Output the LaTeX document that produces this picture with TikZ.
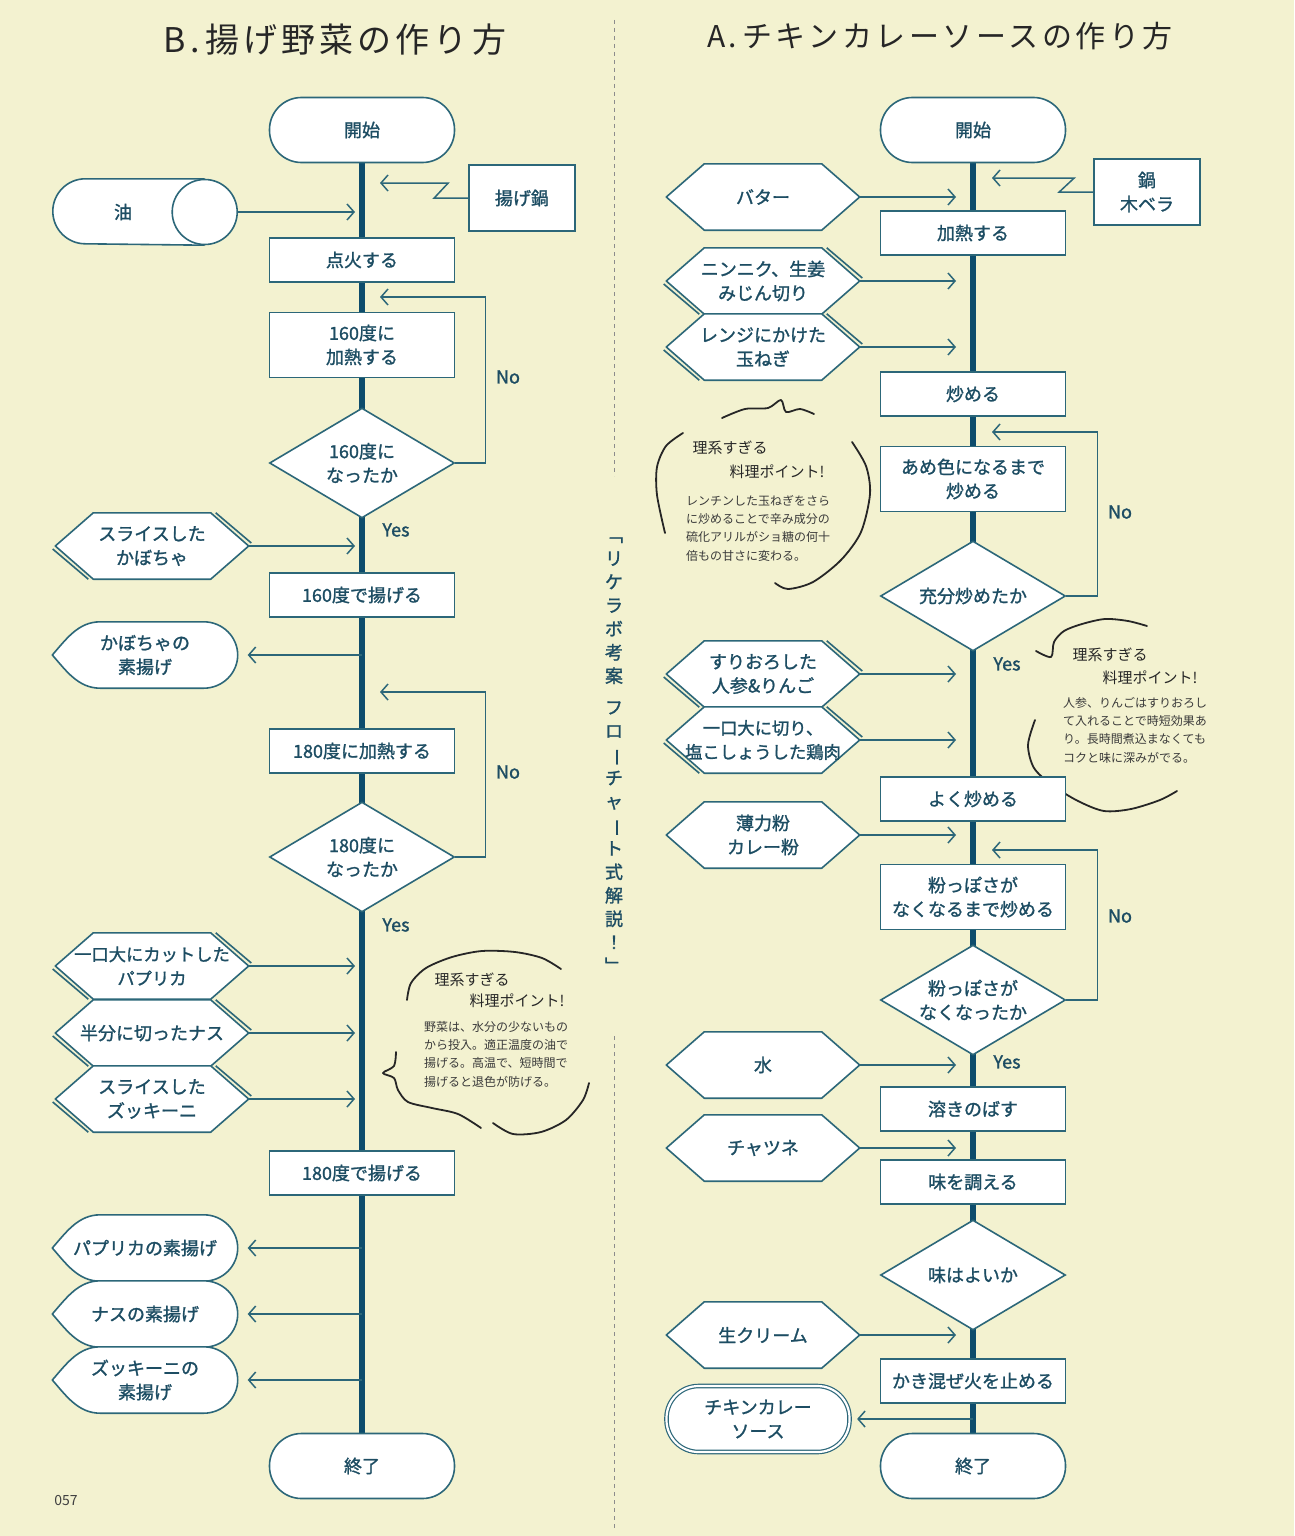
\documentclass[tikz,border=0pt]{standalone}
\usepackage{fontspec}
\setmainfont{Noto Sans CJK JP}
\newfontfamily\flowface[FakeBold=1.3]{Noto Sans CJK JP}
\newfontfamily\handfont[LetterSpace=12]{Noto Sans CJK JP}
\usepackage{graphicx}
\usetikzlibrary{shapes.geometric, arrows.meta, calc}
\definecolor{paper}{HTML}{F3F2D0}
\definecolor{cline}{HTML}{2C6779}
\definecolor{ink}{HTML}{1D4D63}
\definecolor{spinecol}{HTML}{0D4C6C}
\definecolor{pencil}{HTML}{262626}
\definecolor{memo}{HTML}{3A3A3A}
\newcommand{\flowfont}{\flowface\fontsize{18}{24}\selectfont}
\newcommand{\memofont}{\fontsize{12}{18.3}\selectfont}
\pgfdeclarelayer{paperlayer}
\pgfdeclarelayer{shapelayer}
\pgfsetlayers{paperlayer,shapelayer,main}
\tikzset{
    procbox/.style={rectangle, draw=cline, fill=white, line width=1.6pt, minimum width=185, minimum height=44, inner sep=0, align=center, font=\flowfont, text=ink},
    toolbox/.style={procbox, minimum width=106, minimum height=66},
    terminal/.style={procbox, rounded corners=32pt, minimum height=65},
    sauceterm/.style={terminal, minimum width=183, minimum height=66, line width=1.2pt, double=white, double distance=2.2pt},
    decide/.style={diamond, aspect=1.68, draw=cline, fill=white, line width=1.6pt, minimum width=185, minimum height=110, inner sep=0, align=center, font=\flowfont, text=ink},
    prepnode/.style={rectangle, minimum width=193, minimum height=66, inner sep=0, align=center, font=\flowfont, text=ink},
    dispnode/.style={prepnode, minimum width=185},
    shapeline/.style={draw=cline, fill=white, line width=1.6pt, line join=round},
    spine/.style={draw=spinecol, line width=6pt},
    feed/.style={draw=cline, line width=1.5pt, -{Straight Barb[length=7pt, width=16pt]}},
    yesno/.style={font=\flowfont, text=ink, inner sep=0},
    pen/.style={draw=pencil, line width=1.8pt, line cap=round, line join=round},
    tiptitle/.style={font=\fontsize{15}{18}\selectfont, text=pencil, inner sep=0},
    tipbody/.style={font=\memofont, text=memo, align=left, inner sep=0, anchor=north west},
    sepline/.style={draw=black!45, line width=0.8pt, dash pattern=on 4pt off 4pt},
}

\begin{document}
\begin{tikzpicture}[x=1pt, y=-1pt]
    \begin{pgfonlayer}{paperlayer}
        \fill[paper] (0,0) rectangle (1294,1536);
    \end{pgfonlayer}
    \useasboundingbox (0,0) rectangle (1294,1536);

    % titles and separator
    \node[font=\handfont\fontsize{34}{40}\selectfont, text=pencil] (titleB) at (335,40) {B.\,揚げ野菜の作り方};
    \node[font=\handfont\fontsize{30}{36}\selectfont, text=pencil] (titleA) at (940,36) {A.\,チキンカレーソースの作り方};
    \draw[sepline] (614,20) -- (614,476);
    \draw[sepline] (614,1036) -- (614,1530);
    \node[font=\flowface\fontsize{18}{23.5}\selectfont, text=ink, align=center, inner sep=0] (slogan) at (614,755)
        {﹁\\リ\\ケ\\ラ\\ボ\\考\\案\\[8pt]フ\\ロ\\\rotatebox[origin=c]{-90}{ー}\\チ\\ャ\\\rotatebox[origin=c]{-90}{ー}\\ト\\式\\解\\説\\！\\﹂};

    % B: fried vegetables
    \node[terminal] (startL) at (362,130) {開始};
    \node[toolbox] (nabeL) at (522,198) {揚げ鍋};
    \node[dispnode] (oil) at (145,212) {油\hspace{44pt}};
    \node[procbox] (fire) at (362,260) {点火する};
    \node[procbox, minimum height=65] (heat160) at (362,345) {160度に\\加熱する};
    \node[decide] (chk160) at (362,463) {160度に\\なったか};
    \node[prepnode] (kabo) at (152,546) {スライスした\\かぼちゃ};
    \node[procbox] (fry160) at (362,595) {160度で揚げる};
    \node[dispnode] (kaboOut) at (145,655) {かぼちゃの\\素揚げ};
    \node[procbox] (heat180) at (362,751) {180度に加熱する};
    \node[decide] (chk180) at (362,857) {180度に\\なったか};
    \node[prepnode, font=\flowface\fontsize{17.3}{24}\selectfont] (papri) at (152,966) {一口大にカットした\\パプリカ};
    \node[prepnode] (nasu) at (152,1033) {半分に切ったナス};
    \node[prepnode] (zucc) at (152,1099) {スライスした\\ズッキーニ};
    \node[procbox] (fry180) at (362,1173) {180度で揚げる};
    \node[dispnode] (papriOut) at (145,1248) {パプリカの素揚げ};
    \node[dispnode] (nasuOut) at (145,1314) {ナスの素揚げ};
    \node[dispnode] (zuccOut) at (145,1380) {ズッキーニの\\素揚げ};
    \node[terminal] (endL) at (362,1466) {終了};

    % A: chicken curry sauce
    \node[terminal] (startR) at (973,130) {開始};
    \node[toolbox] (nabeR) at (1147,192) {鍋\\木ベラ};
    \node[prepnode] (butter) at (763,197) {バター};
    \node[procbox] (heatR) at (973,233) {加熱する};
    \node[prepnode] (garlic) at (763,281) {ニンニク、生姜\\みじん切り};
    \node[prepnode] (onion) at (763,347) {レンジにかけた\\玉ねぎ};
    \node[procbox] (fryR) at (973,394) {炒める};
    \node[procbox, minimum height=65] (amber) at (973,479) {あめ色になるまで\\炒める};
    \node[decide] (chkFry) at (973,596) {充分炒めたか};
    \node[prepnode] (carrot) at (763,674) {すりおろした\\人参\&りんご};
    \node[prepnode, font=\flowface\fontsize{17.3}{24}\selectfont] (chicken) at (763,740) {一口大に切り、\\塩こしょうした鶏肉};
    \node[procbox] (wellFry) at (973,799) {よく炒める};
    \node[prepnode] (flour) at (763,835) {薄力粉\\カレー粉};
    \node[procbox, minimum height=65] (powder) at (973,897) {粉っぽさが\\なくなるまで炒める};
    \node[decide] (chkPowder) at (973,1000) {粉っぽさが\\なくなったか};
    \node[prepnode] (water) at (763,1065) {水};
    \node[procbox] (dissolve) at (973,1109) {溶きのばす};
    \node[prepnode] (chutney) at (763,1148) {チャツネ};
    \node[procbox] (season) at (973,1182) {味を調える};
    \node[decide] (chkTaste) at (973,1275) {味はよいか};
    \node[prepnode] (cream) at (763,1335) {生クリーム};
    \node[procbox] (stopFire) at (973,1381) {かき混ぜ火を止める};
    \node[sauceterm] (sauce) at (758,1419) {チキンカレー\\ソース};
    \node[terminal] (endR) at (973,1466) {終了};

    % outlines and spines under the text
    \begin{pgfonlayer}{shapelayer}
        \draw[spine] (startL.south) -- (endL.north);
        \draw[spine] (startR.south) -- (endR.north);
        \foreach \n in {kabo, papri, nasu, zucc, garlic, onion, carrot, chicken}
            \draw[shapeline, fill=none] ([xshift=-2.6pt, yshift=-3pt]\n.west) -- ([xshift=33pt]\n.south west)
                ([xshift=-33pt]\n.north east) -- ([xshift=2.6pt, yshift=3pt]\n.east);
        \foreach \n in {kabo, papri, nasu, zucc, butter, garlic, onion, carrot, chicken, flour, water, chutney, cream}
            \draw[shapeline] (\n.west) -- ([xshift=38pt]\n.north west) -- ([xshift=-38pt]\n.north east) -- (\n.east)
                -- ([xshift=-38pt]\n.south east) -- ([xshift=38pt]\n.south west) -- cycle;
        \foreach \n in {kaboOut, papriOut, nasuOut, zuccOut}
            \draw[shapeline] (\n.west) .. controls ([xshift=14pt, yshift=16pt]\n.west) and ([xshift=26pt]\n.north west) .. ([xshift=48pt]\n.north west)
                -- ([xshift=-34pt]\n.north east) .. controls ([xshift=-15pt]\n.north east) and ([yshift=18pt]\n.east) .. (\n.east)
                .. controls ([yshift=-18pt]\n.east) and ([xshift=-15pt]\n.south east) .. ([xshift=-34pt]\n.south east)
                -- ([xshift=48pt]\n.south west) .. controls ([xshift=26pt]\n.south west) and ([xshift=14pt, yshift=-16pt]\n.west) .. (\n.west) -- cycle;
        % oil drum
        \draw[shapeline] ([xshift=-33pt]oil.north east) -- ([xshift=33pt]oil.north west)
            arc[start angle=90, end angle=270, radius=32.5pt] -- ([xshift=-33pt]oil.south east);
        \draw[shapeline] ([xshift=-33pt]oil.east) circle[radius=32.5pt];

        % hand drawn memo frames
        \draw[pen] plot[smooth] coordinates {(407,1000) (411,983) (426,968) (452,957) (482,951) (515,952) (542,958) (561,969)};
        \draw[pen] plot[smooth] coordinates {(396,1052) (394,1066) (383,1073) (394,1078) (398,1090) (408,1102) (432,1108) (458,1114) (481,1128)};
        \draw[pen] plot[smooth] coordinates {(493,1123) (513,1134) (541,1132) (566,1120) (583,1100) (589,1083)};
        \draw[pen] plot[smooth] coordinates {(722,418) (745,409) (768,408) (781,400) (786,412) (800,409) (814,414)};
        \draw[pen] plot[smooth] coordinates {(683,433) (666,446) (657,467) (657,495) (665,533)};
        \draw[pen] plot[smooth] coordinates {(852,442) (866,466) (870,494) (861,532) (841,560) (813,582) (788,589) (775,583)};
        \draw[pen] plot[smooth] coordinates {(1036,651) (1051,657) (1054,642) (1064,631) (1082,624) (1105,619) (1128,621) (1147,626)};
        \draw[pen] plot[smooth] coordinates {(1035,720) (1028,745) (1034,768) (1052,785) (1078,801) (1104,811) (1131,809) (1160,800) (1177,791)};
    \end{pgfonlayer}

    % connectors
    \coordinate (inL) at (355,0);
    \coordinate (inR) at (956,0);
    \coordinate (spL) at (362,0);
    \coordinate (spR) at (973,0);
    \foreach \n in {oil, kabo, papri, nasu, zucc}
        \draw[feed] (\n.east) -- (\n.east -| inL);
    \foreach \n in {butter, garlic, onion, carrot, chicken, flour, water, chutney, cream}
        \draw[feed] (\n.east) -- (\n.east -| inR);
    \foreach \n in {kaboOut, papriOut, nasuOut, zuccOut}
        \draw[feed] (\n.east -| spL) -- ([xshift=10pt]\n.east);
    \draw[feed] (sauce.east -| spR) -- ([xshift=7pt]sauce.east);

    \coordinate (nabeTipL) at (380,183);
    \coordinate (nabeTipR) at (992,178);
    \draw[feed] (nabeL.west) -- ++(-34,0) -- ++(14,-15) -- (nabeTipL);
    \draw[feed] (nabeR.west) -- ++(-34,0) -- ++(15,-14) -- (nabeTipR);

    \coordinate (back160) at (380,297);
    \coordinate (back180) at (380,692);
    \coordinate (backFry) at (992,432);
    \coordinate (backPowder) at (992,850);
    \draw[feed] (chk160.east) -- ++(30,0) |- (back160);
    \draw[feed] (chk180.east) -- ++(30,0) |- (back180);
    \draw[feed] (chkFry.east) -- ++(31,0) |- (backFry);
    \draw[feed] (chkPowder.east) -- ++(31,0) |- (backPowder);

    \node[yesno] (no160) at (508,377) {No};
    \node[yesno] (yes160) at (396,530) {Yes};
    \node[yesno] (no180) at (508,772) {No};
    \node[yesno] (yes180) at (396,925) {Yes};
    \node[yesno] (noFry) at (1120,512) {No};
    \node[yesno] (yesFry) at (1007,664) {Yes};
    \node[yesno] (noPowder) at (1120,916) {No};
    \node[yesno] (yesPowder) at (1007,1062) {Yes};

    % memos
    \node[tiptitle] (tipB1) at (472,980) {理系すぎる};
    \node[tiptitle] (tipB2) at (517,1001) {料理ポイント!};
    \node[tipbody] (tipB) at (424,1021) {野菜は、水分の少ないもの\\から投入。適正温度の油で\\揚げる。高温で、短時間で\\揚げると退色が防げる。};
    \node[tiptitle] (tipO1) at (730,448) {理系すぎる};
    \node[tiptitle] (tipO2) at (777,472) {料理ポイント!};
    \node[tipbody] (tipO) at (686,495) {レンチンした玉ねぎをさら\\に炒めることで辛み成分の\\硫化アリルがショ糖の何十\\倍もの甘さに変わる。};
    \node[tiptitle] (tipC1) at (1110,655) {理系すぎる};
    \node[tiptitle] (tipC2) at (1150,678) {料理ポイント!};
    \node[tipbody] (tipC) at (1063,697) {人参、りんごはすりおろし\\て入れることで時短効果あ\\り。長時間煮込まなくても\\コクと味に深みがでる。};

    \node[font=\fontsize{14}{16}\selectfont, text=black!75] (folio) at (66,1500) {057};
\end{tikzpicture}
\end{document}
